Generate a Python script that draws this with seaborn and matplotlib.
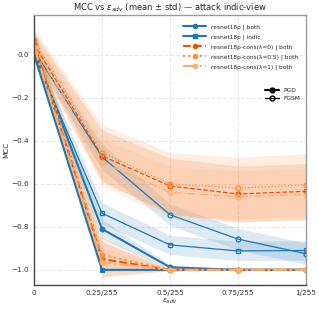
import numpy as np
import seaborn as sns
import matplotlib
matplotlib.use("Agg")
import matplotlib.pyplot as plt
from matplotlib.lines import Line2D

# epsilon in units of 1/255
eps = [0, 0.25, 0.5, 0.75, 1.0]
eps_labels = ["0", "0.25/255", "0.5/255", "0.75/255", "1/255"]

models = ["resnet18p | both", "resnet18p | indic", "resnet18p-cons(λ=0) | both",
          "resnet18p-cons(λ=0.5) | both", "resnet18p-cons(λ=1) | both"]

pgd_mean = {
    "resnet18p | both": [0.02, -0.81, -0.988, -1.0, -1.0],
    "resnet18p | indic": [0.0, -1.0, -1.0, -1.0, -1.0],
    "resnet18p-cons(λ=0) | both": [0.05, -0.95, -1.0, -1.0, -1.0],
    "resnet18p-cons(λ=0.5) | both": [0.07, -0.93, -1.0, -1.0, -1.0],
    "resnet18p-cons(λ=1) | both": [0.035, -0.965, -1.0, -1.0, -1.0],
}
pgd_std = {
    "resnet18p | both": [0.03, 0.045, 0.01, 0.0, 0.0],
    "resnet18p | indic": [0.03, 0.005, 0.0, 0.0, 0.0],
    "resnet18p-cons(λ=0) | both": [0.05, 0.08, 0.005, 0.0, 0.0],
    "resnet18p-cons(λ=0.5) | both": [0.05, 0.08, 0.005, 0.0, 0.0],
    "resnet18p-cons(λ=1) | both": [0.05, 0.07, 0.005, 0.0, 0.0],
}
fgsm_mean = {
    "resnet18p | both": [0.02, -0.475, -0.744, -0.857, -0.925],
    "resnet18p | indic": [0.0, -0.737, -0.884, -0.912, -0.91],
    "resnet18p-cons(λ=0) | both": [0.05, -0.47, -0.61, -0.647, -0.635],
    "resnet18p-cons(λ=0.5) | both": [0.07, -0.455, -0.60, -0.62, -0.605],
    "resnet18p-cons(λ=1) | both": [0.035, -0.50, -0.64, -0.66, -0.65],
}
fgsm_std = {
    "resnet18p | both": [0.03, 0.06, 0.05, 0.05, 0.05],
    "resnet18p | indic": [0.03, 0.05, 0.045, 0.045, 0.045],
    "resnet18p-cons(λ=0) | both": [0.05, 0.12, 0.13, 0.13, 0.13],
    "resnet18p-cons(λ=0.5) | both": [0.05, 0.13, 0.145, 0.145, 0.145],
    "resnet18p-cons(λ=1) | both": [0.05, 0.11, 0.12, 0.12, 0.12],
}

colors = {
    "resnet18p | both": "#1f77b4",
    "resnet18p | indic": "#1f77b4",
    "resnet18p-cons(λ=0) | both": "#e6550d",
    "resnet18p-cons(λ=0.5) | both": "#fd8d3c",
    "resnet18p-cons(λ=1) | both": "#fdae6b",
}
styles = {
    "resnet18p | both": ("-", "o"),
    "resnet18p | indic": ("-", "s"),
    "resnet18p-cons(λ=0) | both": ("--", "o"),
    "resnet18p-cons(λ=0.5) | both": (":", "o"),
    "resnet18p-cons(λ=1) | both": ("-.", "o"),
}

sns.set_style("whitegrid", {"grid.linestyle": "--", "grid.color": "#e8e8e8"})
plt.rcParams["font.family"] = ["DejaVu Sans"]

fig = plt.figure(figsize=(3.19, 3.10), dpi=100)
ax = fig.add_axes([0.107, 0.081, 0.852, 0.871])

x = np.array(eps) / 255.0
for m in models:
    c = colors[m]
    ls, mk = styles[m]
    # FGSM: thin, hollow markers
    mu, sd = np.array(fgsm_mean[m]), np.array(fgsm_std[m])
    ax.fill_between(x, mu - sd, mu + sd, color=c, alpha=0.15, linewidth=0)
    sns.lineplot(x=x, y=mu, ax=ax, color=c, linestyle=ls, marker=mk, markersize=3.5,
                 markerfacecolor="none", markeredgecolor=c, markeredgewidth=0.9,
                 linewidth=0.9, estimator=None, sort=False)
    # PGD: thick, filled markers
    mu, sd = np.array(pgd_mean[m]), np.array(pgd_std[m])
    ax.fill_between(x, mu - sd, mu + sd, color=c, alpha=0.15, linewidth=0)
    sns.lineplot(x=x, y=mu, ax=ax, color=c, linestyle=ls, marker=mk, markersize=3.5,
                 markerfacecolor=c, markeredgecolor=c, linewidth=1.5,
                 estimator=None, sort=False)

ax.set_xlim(0, 1 / 255)
ax.set_ylim(-1.07, 0.186)
ax.set_xticks(x)
ax.set_xticklabels(eps_labels)
ax.tick_params(labelsize=5.2, length=2, width=0.7, pad=1.5, colors="#333333")
ax.set_xlabel(r"$\varepsilon_{adv}$", fontsize=5.2, labelpad=1)
ax.set_ylabel("MCC", fontsize=5.2, labelpad=2)
ax.set_title(r"MCC vs $\varepsilon_{adv}$ (mean ± std) — attack indic-view", fontsize=6.0, pad=3)
for s in ["left", "bottom"]:
    ax.spines[s].set_color("#444444")
for s in ["top", "right"]:
    ax.spines[s].set_color("#999999")
for s in ax.spines.values():
    s.set_linewidth(1.0)

model_handles = [Line2D([0], [0], color=colors[m], linestyle=styles[m][0], marker=styles[m][1],
                        markersize=3, linewidth=1.5) for m in models]
leg1 = ax.legend(model_handles, models, loc="upper right", bbox_to_anchor=(0.99, 0.985),
                 fontsize=4.2, frameon=False, handlelength=4.0, labelspacing=0.75)
ax.add_artist(leg1)
atk_handles = [Line2D([0], [0], color="black", marker="o", markersize=3.5, linewidth=1.5),
               Line2D([0], [0], color="black", marker="o", markersize=3.5, linewidth=0.9,
                      markerfacecolor="none")]
ax.legend(atk_handles, ["PGD", "FGSM"], loc="upper right", bbox_to_anchor=(1.0, 0.75),
          fontsize=4.2, frameon=False, handlelength=2.5, labelspacing=0.6)

fig.savefig("out.png", dpi=100)
